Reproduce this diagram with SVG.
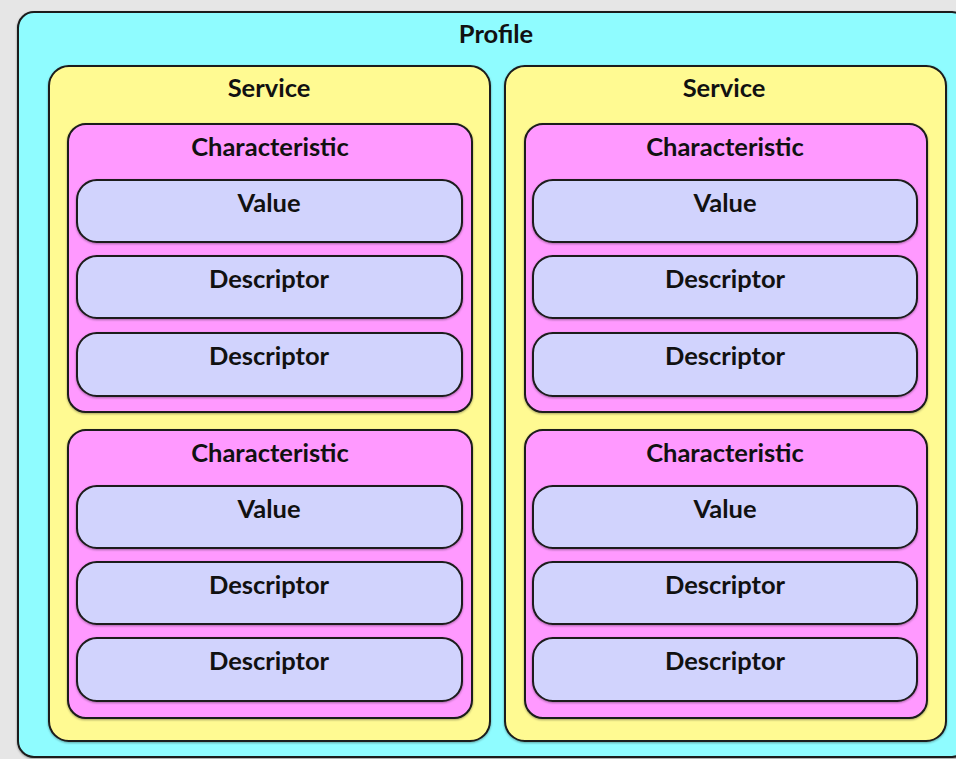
<svg xmlns="http://www.w3.org/2000/svg" width="956" height="759" viewBox="0 0 956 759">
<defs>
<style>
.pr{fill:#8ffcff;stroke:#1a1a1a;stroke-width:2}
.sv{fill:#fffa92;stroke:#1a1a1a;stroke-width:2}
.ch{fill:#ff99ff;stroke:#1a1a1a;stroke-width:2}
.vl{fill:#d1d3fd;stroke:#1a1a1a;stroke-width:2}
text{font-family:"Lato","Open Sans","Liberation Sans",sans-serif;font-weight:bold;font-size:25.5px;fill:#111;text-anchor:middle}
</style>
<filter id="sh" x="-5%" y="-5%" width="110%" height="110%">
<feDropShadow dx="0" dy="1" stdDeviation="1.2" flood-color="#000" flood-opacity="0.35"/>
</filter>
</defs>
<rect width="956" height="759" fill="#e6e6e6"/>
<g id="profile">
<rect class="pr" x="18" y="12" width="950" height="745" rx="16" filter="url(#sh)"/>
<text x="496" y="43">Profile</text>
</g>
<g id="service1">
<rect class="sv" x="49" y="66" width="441" height="675" rx="20" filter="url(#sh)"/>
<text x="269" y="97">Service</text>
</g>
<g id="service2">
<rect class="sv" x="505" y="66" width="441" height="675" rx="20" filter="url(#sh)"/>
<text x="724" y="97">Service</text>
</g>
<g id="char1">
<rect class="ch" x="68" y="124" width="404" height="288" rx="18" filter="url(#sh)"/>
<text x="270" y="156">Characteristic</text>
</g>
<g id="char2">
<rect class="ch" x="68" y="430" width="404" height="288" rx="18" filter="url(#sh)"/>
<text x="270" y="462">Characteristic</text>
</g>
<g id="char3">
<rect class="ch" x="525" y="124" width="402" height="288" rx="18" filter="url(#sh)"/>
<text x="725" y="156">Characteristic</text>
</g>
<g id="char4">
<rect class="ch" x="525" y="430" width="402" height="288" rx="18" filter="url(#sh)"/>
<text x="725" y="462">Characteristic</text>
</g>
<g id="value1"><rect class="vl" x="77" y="180" width="385" height="62" rx="20" filter="url(#sh)"/><text x="269" y="212">Value</text></g>
<g id="desc1"><rect class="vl" x="77" y="256" width="385" height="62" rx="20" filter="url(#sh)"/><text x="269" y="288">Descriptor</text></g>
<g id="desc2"><rect class="vl" x="77" y="333" width="385" height="63" rx="20" filter="url(#sh)"/><text x="269" y="365">Descriptor</text></g>
<g id="value2"><rect class="vl" x="77" y="486" width="385" height="62" rx="20" filter="url(#sh)"/><text x="269" y="518">Value</text></g>
<g id="desc3"><rect class="vl" x="77" y="562" width="385" height="62" rx="20" filter="url(#sh)"/><text x="269" y="594">Descriptor</text></g>
<g id="desc4"><rect class="vl" x="77" y="638" width="385" height="63" rx="20" filter="url(#sh)"/><text x="269" y="670">Descriptor</text></g>
<g id="value3"><rect class="vl" x="533" y="180" width="384" height="62" rx="20" filter="url(#sh)"/><text x="725" y="212">Value</text></g>
<g id="desc5"><rect class="vl" x="533" y="256" width="384" height="62" rx="20" filter="url(#sh)"/><text x="725" y="288">Descriptor</text></g>
<g id="desc6"><rect class="vl" x="533" y="333" width="384" height="63" rx="20" filter="url(#sh)"/><text x="725" y="365">Descriptor</text></g>
<g id="value4"><rect class="vl" x="533" y="486" width="384" height="62" rx="20" filter="url(#sh)"/><text x="725" y="518">Value</text></g>
<g id="desc7"><rect class="vl" x="533" y="562" width="384" height="62" rx="20" filter="url(#sh)"/><text x="725" y="594">Descriptor</text></g>
<g id="desc8"><rect class="vl" x="533" y="638" width="384" height="63" rx="20" filter="url(#sh)"/><text x="725" y="670">Descriptor</text></g>
<g id="connectors"/>
</svg>
